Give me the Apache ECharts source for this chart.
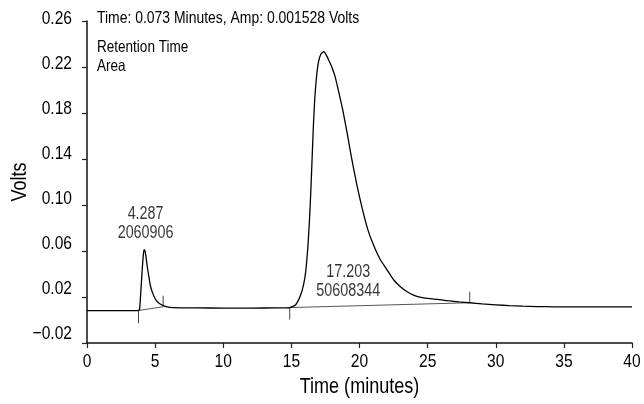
<!DOCTYPE html>
<html>
<head>
<meta charset="utf-8">
<script src="https://cdn.jsdelivr.net/npm/echarts@6/dist/echarts.min.js"></script>
<style>html,body{margin:0;padding:0;background:#fff}#c{width:644px;height:404px}</style>
</head>
<body>
<div id="c"></div>
<script>
// ---- data ----
const times = [0, 2, 3.5, 3.78, 3.86, 3.93, 4.0, 4.07, 4.13, 4.19, 4.26, 4.34, 4.44, 4.55, 4.65, 4.8, 5.0, 5.2, 5.5, 5.8, 6.3, 8, 10, 12, 14, 14.6, 14.88, 15.3, 15.66, 15.9, 16.05, 16.2, 16.32, 16.42, 16.52, 16.62, 16.72, 16.85, 17.0, 17.18, 17.38, 17.6, 17.8, 18.0, 18.2, 18.5, 18.8, 19.1, 19.4, 19.8, 20.2, 20.6, 21.0, 21.5, 22.0, 22.5, 23.0, 23.5, 24.0, 24.6, 25.2, 25.7, 26.5, 27.3, 28.1, 29.0, 30.0, 31.0, 32.0, 33.0, 34.3, 36, 38, 40];
const volts = [0.0081, 0.0081, 0.0081, 0.0083, 0.0095, 0.021, 0.034, 0.047, 0.056, 0.0612, 0.060, 0.054, 0.045, 0.037, 0.030, 0.024, 0.0185, 0.0155, 0.013, 0.0117, 0.0108, 0.0105, 0.0104, 0.0104, 0.0105, 0.0106, 0.0108, 0.013, 0.021, 0.031, 0.042, 0.062, 0.085, 0.110, 0.140, 0.170, 0.193, 0.212, 0.225, 0.2315, 0.2333, 0.2295, 0.2245, 0.219, 0.212, 0.197, 0.181, 0.162, 0.142, 0.118, 0.097, 0.079, 0.066, 0.053, 0.044, 0.035, 0.029, 0.0245, 0.0215, 0.0195, 0.0185, 0.018, 0.0168, 0.0158, 0.015, 0.014, 0.0132, 0.0125, 0.012, 0.0117, 0.0115, 0.0115, 0.0115, 0.0115];
// integration baselines (start/end) and peak markers
const baseline1 = [[3.78, 0.0083], [5.59, 0.0115]];
const baseline2 = [[14.88, 0.0108], [28.09, 0.015]];
const marker1 = [[3.78, 0.0083], [3.78, -0.0029]];
const marker2 = [[5.59, 0.0115], [5.59, 0.0211]];
const marker3 = [[14.88, 0.0108], [14.88, 0.0004]];
const marker4 = [[28.09, 0.015], [28.09, 0.0246]];
// peak annotations
const peakRT = ['4.287', '17.203'];
const peakArea = ['2060906', '50608344'];
const peakLabelAt = [[4.3, 0.0835], [19.17, 0.033]];
// axis ticks
const yTicks = [-0.02, 0.02, 0.06, 0.10, 0.14, 0.18, 0.22, 0.26];
const xTicks = [0, 5, 10, 15, 20, 25, 30, 35, 40];
const headerText = 'Time: 0.073 Minutes, Amp: 0.001528 Volts';
const legendLines = ['Retention Time', 'Area'];

// ---- narrow text rendering (condensed sans, like the reference typeface) ----
(function () {
  const SX = 0.82;
  const proto = CanvasRenderingContext2D.prototype;
  const origFill = proto.fillText, origMeasure = proto.measureText;
  proto.fillText = function (t, x, y, mw) {
    this.save(); this.translate(x, y); this.scale(SX, 1);
    origFill.call(this, t, 0, 0);
    this.restore();
  };
  proto.measureText = function (t) {
    const m = origMeasure.call(this, t);
    return {
      width: m.width * SX,
      actualBoundingBoxAscent: m.actualBoundingBoxAscent,
      actualBoundingBoxDescent: m.actualBoundingBoxDescent,
      actualBoundingBoxLeft: m.actualBoundingBoxLeft * SX,
      actualBoundingBoxRight: m.actualBoundingBoxRight * SX,
      fontBoundingBoxAscent: m.fontBoundingBoxAscent,
      fontBoundingBoxDescent: m.fontBoundingBoxDescent
    };
  };
})();

// ---- chart ----
const F = "'Liberation Sans', Arial, sans-serif";
const chart = echarts.init(document.getElementById('c'), null, {renderer: 'canvas'});
const seg = (d, color) => ({
  type: 'line', data: d, xAxisIndex: 0, yAxisIndex: 0, symbol: 'none',
  lineStyle: {color: color, width: 1}, silent: true, z: 3
});
const option = {
  animation: false,
  backgroundColor: '#fff',
  grid: [
    {left: 87, right: 12, top: 21, bottom: 61},
    {left: 87, right: 12, top: 19, bottom: 70}
  ],
  xAxis: [
    {
      type: 'value', gridIndex: 0, min: xTicks[0], max: xTicks[xTicks.length - 1], interval: 5,
      axisLine: {onZero: false, lineStyle: {color: '#111', width: 1.5}},
      axisTick: {length: 5, lineStyle: {color: '#222', width: 1.2}},
      axisLabel: {color: '#000', fontSize: 19, fontFamily: F, margin: 11},
      splitLine: {show: false},
      name: 'Time (minutes)', nameLocation: 'middle', nameGap: 35,
      nameTextStyle: {color: '#000', fontSize: 22, fontFamily: F}
    },
    {type: 'value', gridIndex: 1, min: 0, max: 40, show: false}
  ],
  yAxis: [
    {
      type: 'value', gridIndex: 0, min: yTicks[0], max: yTicks[yTicks.length - 1], interval: 0.04,
      axisLine: {show: true, onZero: false, lineStyle: {color: '#111', width: 1.5}},
      axisTick: {show: true, length: 5, lineStyle: {color: '#222', width: 1.2}},
      axisLabel: {show: false},
      splitLine: {show: false},
      name: 'Volts', nameLocation: 'middle', nameGap: 58,
      nameTextStyle: {color: '#000', fontSize: 22, fontFamily: F}
    },
    {
      type: 'value', gridIndex: 1, min: yTicks[0], max: yTicks[yTicks.length - 1], interval: 0.04,
      axisLine: {show: false}, axisTick: {show: false}, splitLine: {show: false},
      axisLabel: {
        color: '#000', fontSize: 19, fontFamily: F, margin: 15,
        formatter: v => v.toFixed(2).replace('-', '\u2212')
      }
    }
  ],
  graphic: [
    {type: 'text', left: 97, top: 11, style: {text: headerText, font: '17px ' + F, fill: '#000'}},
    {type: 'text', left: 97, top: 40, style: {text: legendLines[0], font: '16.5px ' + F, fill: '#000'}},
    {type: 'text', left: 97, top: 59, style: {text: legendLines[1], font: '16.5px ' + F, fill: '#000'}}
  ],
  series: [
    {
      type: 'line', xAxisIndex: 0, yAxisIndex: 0,
      data: times.map((t, i) => [t, volts[i]]),
      symbol: 'none', smooth: 0.2,
      lineStyle: {color: '#000', width: 1.3}, z: 4
    },
    seg(baseline1, '#555'), seg(baseline2, '#555'),
    seg(marker1, '#444'), seg(marker2, '#444'), seg(marker3, '#444'), seg(marker4, '#444'),
    {
      type: 'scatter', xAxisIndex: 0, yAxisIndex: 0, symbolSize: 0,
      data: peakLabelAt.map((p, i) => ({value: p, rt: peakRT[i], area: peakArea[i]})),
      label: {
        show: true, position: 'inside', color: '#000', fontSize: 17.5, fontFamily: F, lineHeight: 19,
        formatter: p => p.data.rt + '\n' + p.data.area
      },
      silent: true, z: 5
    }
  ]
};
chart.setOption(option);
</script>
</body>
</html>
